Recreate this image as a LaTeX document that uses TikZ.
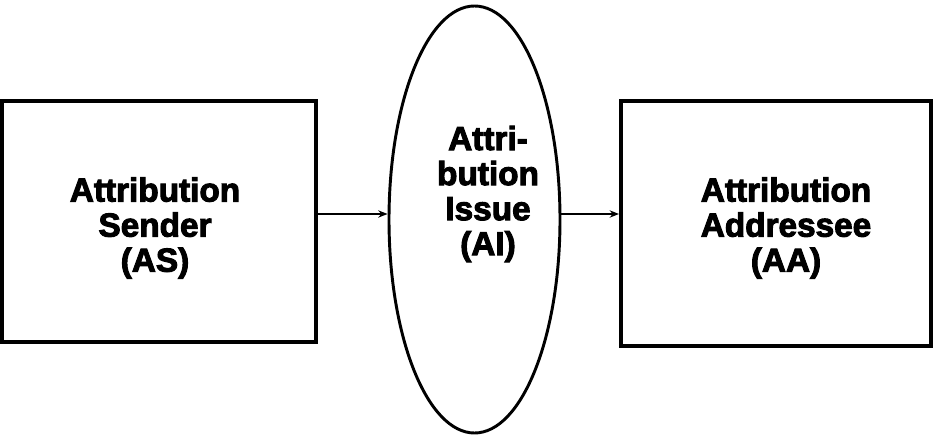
\documentclass[tikz,border=0pt]{standalone}
\usepackage{fontspec}
\setmainfont{Liberation Sans}[BoldFeatures={FakeBold=3}]
\usetikzlibrary{shapes.geometric,arrows.meta}
\begin{document}
\begin{tikzpicture}[x=0.75pt,y=-0.75pt,
  boxnode/.style={draw=black,line width=3pt,rectangle,inner sep=0pt},
  ellnode/.style={draw=black,line width=2.2pt,ellipse,inner sep=0pt},
  lbl/.style={align=center,font=\bfseries\fontsize{25}{26.3}\selectfont,inner sep=0pt},
  arr/.style={line width=1.2pt,-{Stealth[length=7pt,width=5.5pt]}}]
\useasboundingbox (0,0) rectangle (934,438);
\node[boxnode,minimum width=314*0.75pt,minimum height=241*0.75pt] (as) at (159,221.5) {};
\node[boxnode,minimum width=310*0.75pt,minimum height=245*0.75pt] (aa) at (776,223.5) {};
\node[ellnode,minimum width=171*0.75pt,minimum height=427*0.75pt] (ai) at (474.5,219.5) {};
\node[lbl] (ast) at (155,228) {Attribution\\Sender\\(AS)};
\node[lbl] (aat) at (786,228) {Attribution\\Addressee\\(AA)};
\node[lbl] (ait) at (488,194) {Attri-\\bution\\Issue\\(AI)};
\coordinate (ay) at (0,214);
\draw[arr] (as.east |- ay) -- (ai.west |- ay);
\draw[arr] (ai.east |- ay) -- (aa.west |- ay);
\end{tikzpicture}
\end{document}
